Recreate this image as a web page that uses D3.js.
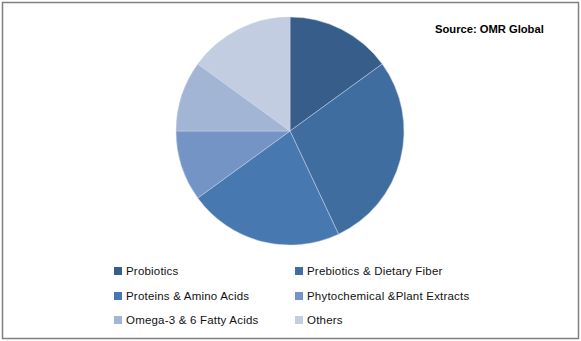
<!DOCTYPE html>
<html><head><meta charset="utf-8">
<script src="https://cdn.jsdelivr.net/npm/d3@7"></script>
<style>body{margin:0;background:#fff}svg{display:block}</style>
</head><body>
<script>
const categories = ["Probiotics","Prebiotics & Dietary Fiber","Proteins & Amino Acids","Phytochemical &Plant Extracts","Omega-3 & 6 Fatty Acids","Others"];
const values = [15, 28, 22, 10, 10, 15];
const colors = ["#375d8a","#406d9f","#4878b0","#7394c4","#a3b5d5","#c3cde2"];
const sourceText = "Source: OMR Global";

const W = 581, H = 341;
const svg = d3.select("body").append("svg").attr("width", W).attr("height", H);
svg.append("rect").attr("x", 2.5).attr("y", 2.5).attr("width", 576).attr("height", 336)
  .attr("fill", "#fff").attr("stroke", "#808080").attr("stroke-width", 1.5);

const pie = d3.pie().sort(null).value(d => d)(values);
const arc = d3.arc().innerRadius(0).outerRadius(114);
const g = svg.append("g").attr("transform", "translate(290,131)");
g.selectAll("path").data(pie).join("path")
  .attr("d", arc).attr("fill", (d,i) => colors[i])
  .attr("stroke", "#c8d4e6").attr("stroke-width", 0.5);

svg.append("text").attr("x", 435).attr("y", 33).text(sourceText)
  .attr("font-family", "Liberation Sans, Arial, sans-serif").attr("font-weight", "bold")
  .attr("font-size", 11.2).attr("fill", "#000");

const colX = [114, 295], rowY = [271, 296, 320];
const lg = svg.append("g");
categories.forEach((c, i) => {
  const x = colX[i % 2], y = rowY[Math.floor(i / 2)];
  lg.append("rect").attr("x", x).attr("y", y - 4).attr("width", 8).attr("height", 8).attr("fill", colors[i]);
  lg.append("text").attr("x", x + 12).attr("y", y + 4).text(c)
    .attr("font-family", "Liberation Sans, Arial, sans-serif").attr("font-size", 11.5)
    .attr("letter-spacing", 0.2).attr("fill", "#111");
});
</script>
</body></html>
